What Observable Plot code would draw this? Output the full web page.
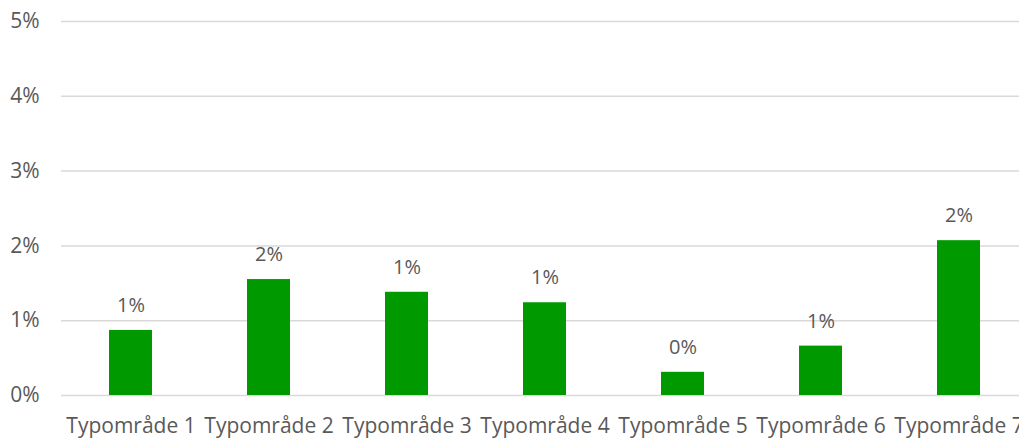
<!DOCTYPE html>
<html><head><meta charset="utf-8">
<script src="https://cdn.jsdelivr.net/npm/d3@7"></script>
<script src="https://cdn.jsdelivr.net/npm/@observablehq/plot@0.6"></script>
<style>
html,body{margin:0;padding:0;background:#fff;overflow:hidden;width:1019px;height:439px;}
#chart svg{display:block;max-width:none !important;}
</style></head>
<body><div id="chart"></div>
<script>
const categories = ["Typområde 1","Typområde 2","Typområde 3","Typområde 4","Typområde 5","Typområde 6","Typområde 7"];
const values = [0.0087, 0.0155, 0.0138, 0.0124, 0.0031, 0.0066, 0.0207];
const yTicks = [0, 0.01, 0.02, 0.03, 0.04, 0.05];
const data = categories.map((c, i) => ({cat: c, v: values[i]}));
const fmt = d3.format(".0%");
const font = "'Open Sans', sans-serif";
const chart = Plot.plot({
  width: 1030, height: 439,
  marginLeft: 61, marginRight: 3, marginTop: 21, marginBottom: 44,
  style: {fontFamily: font, fontSize: "21px", color: "#595959", background: "#fff", maxWidth: "none"},
  x: {domain: categories, paddingInner: 0.69, paddingOuter: 0.345, label: null, tickSize: 0, tickPadding: 23},
  y: {domain: [0, 0.05], ticks: yTicks, tickFormat: fmt, label: null, tickSize: 0, tickPadding: 22},
  marks: [
    Plot.gridY(yTicks, {stroke: "#d9d9d9", strokeOpacity: 1, strokeWidth: 1.5}),
    Plot.barY(data, {x: "cat", y: "v", fill: "#009a00"}),
    Plot.text(data, {x: "cat", y: "v", text: d => fmt(d.v), dy: -25, fill: "#595959", fontSize: 20})
  ]
});
document.getElementById("chart").appendChild(chart);
</script></body></html>
